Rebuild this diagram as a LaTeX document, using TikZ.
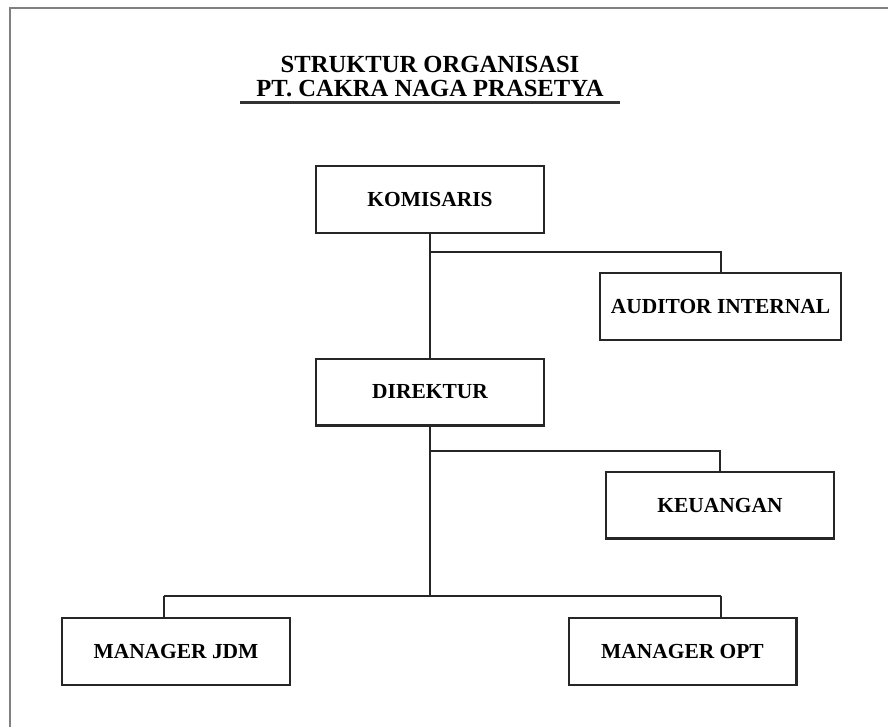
\documentclass[tikz,border=0pt]{standalone}
\usepackage{fontspec}
\setmainfont{Liberation Serif}

\tikzset{
  kotak/.style={rectangle, draw=black!85, line width=1.15pt, minimum width=4.56cm, minimum height=1.34cm, inner sep=0pt, font=\fontsize{12.2}{14}\selectfont\bfseries},
  garis/.style={draw=black!85, line width=1.15pt},
  judul/.style={anchor=base, inner sep=0pt, font=\fontsize{14}{16}\selectfont\bfseries}
}

\begin{document}
\begin{tikzpicture}[x=0.02cm, y=-0.02cm]

\useasboundingbox (0,0) rectangle (888,727);

% Frame
\draw[gray, line width=1.1pt] (10,727) -- (10,8) -- (888,8);

% Title
\node[judul] (judul1) at (430,72) {STRUKTUR ORGANISASI};
\node[judul] (judul2) at (430,96) {PT. CAKRA NAGA PRASETYA};
\coordinate (garisA) at (240,102.5);
\coordinate (garisB) at (620,102.5);
\draw[black!80, line width=1.2pt] (garisA) -- (garisB);

% Boxes
\node[kotak] (komisaris) at (430,199.5) {KOMISARIS};
\node[kotak, minimum width=4.82cm] (auditor) at (720.5,306.5) {AUDITOR INTERNAL};
\node[kotak] (direktur) at (430,392) {DIREKTUR};
\node[kotak] (keuangan) at (720,505) {KEUANGAN};
\node[kotak] (jdm) at (176,651.5) {MANAGER JDM};
\node[kotak] (opt) at (682.5,651.5) {MANAGER OPT};

% Branch points
\coordinate (cabang1) at (430,252);  % to auditor
\coordinate (cabang2) at (430,451);  % to keuangan
\coordinate (cabang3) at (430,596);  % to managers
\coordinate (kiri) at (164,596);
\coordinate (kanan) at (721,596);

% Lines
\draw[garis] (komisaris) -- (direktur);
\draw[garis] (cabang1) -| (auditor.north);
\draw[garis] (direktur.south) -- (cabang3);
\draw[garis] (cabang2) -| (keuangan.north);
\draw[garis] (kiri) -- (kanan);
\draw[garis] (kiri) -- (kiri |- jdm.north);
\draw[garis] (kanan) -- (kanan |- opt.north);

\end{tikzpicture}
\end{document}
